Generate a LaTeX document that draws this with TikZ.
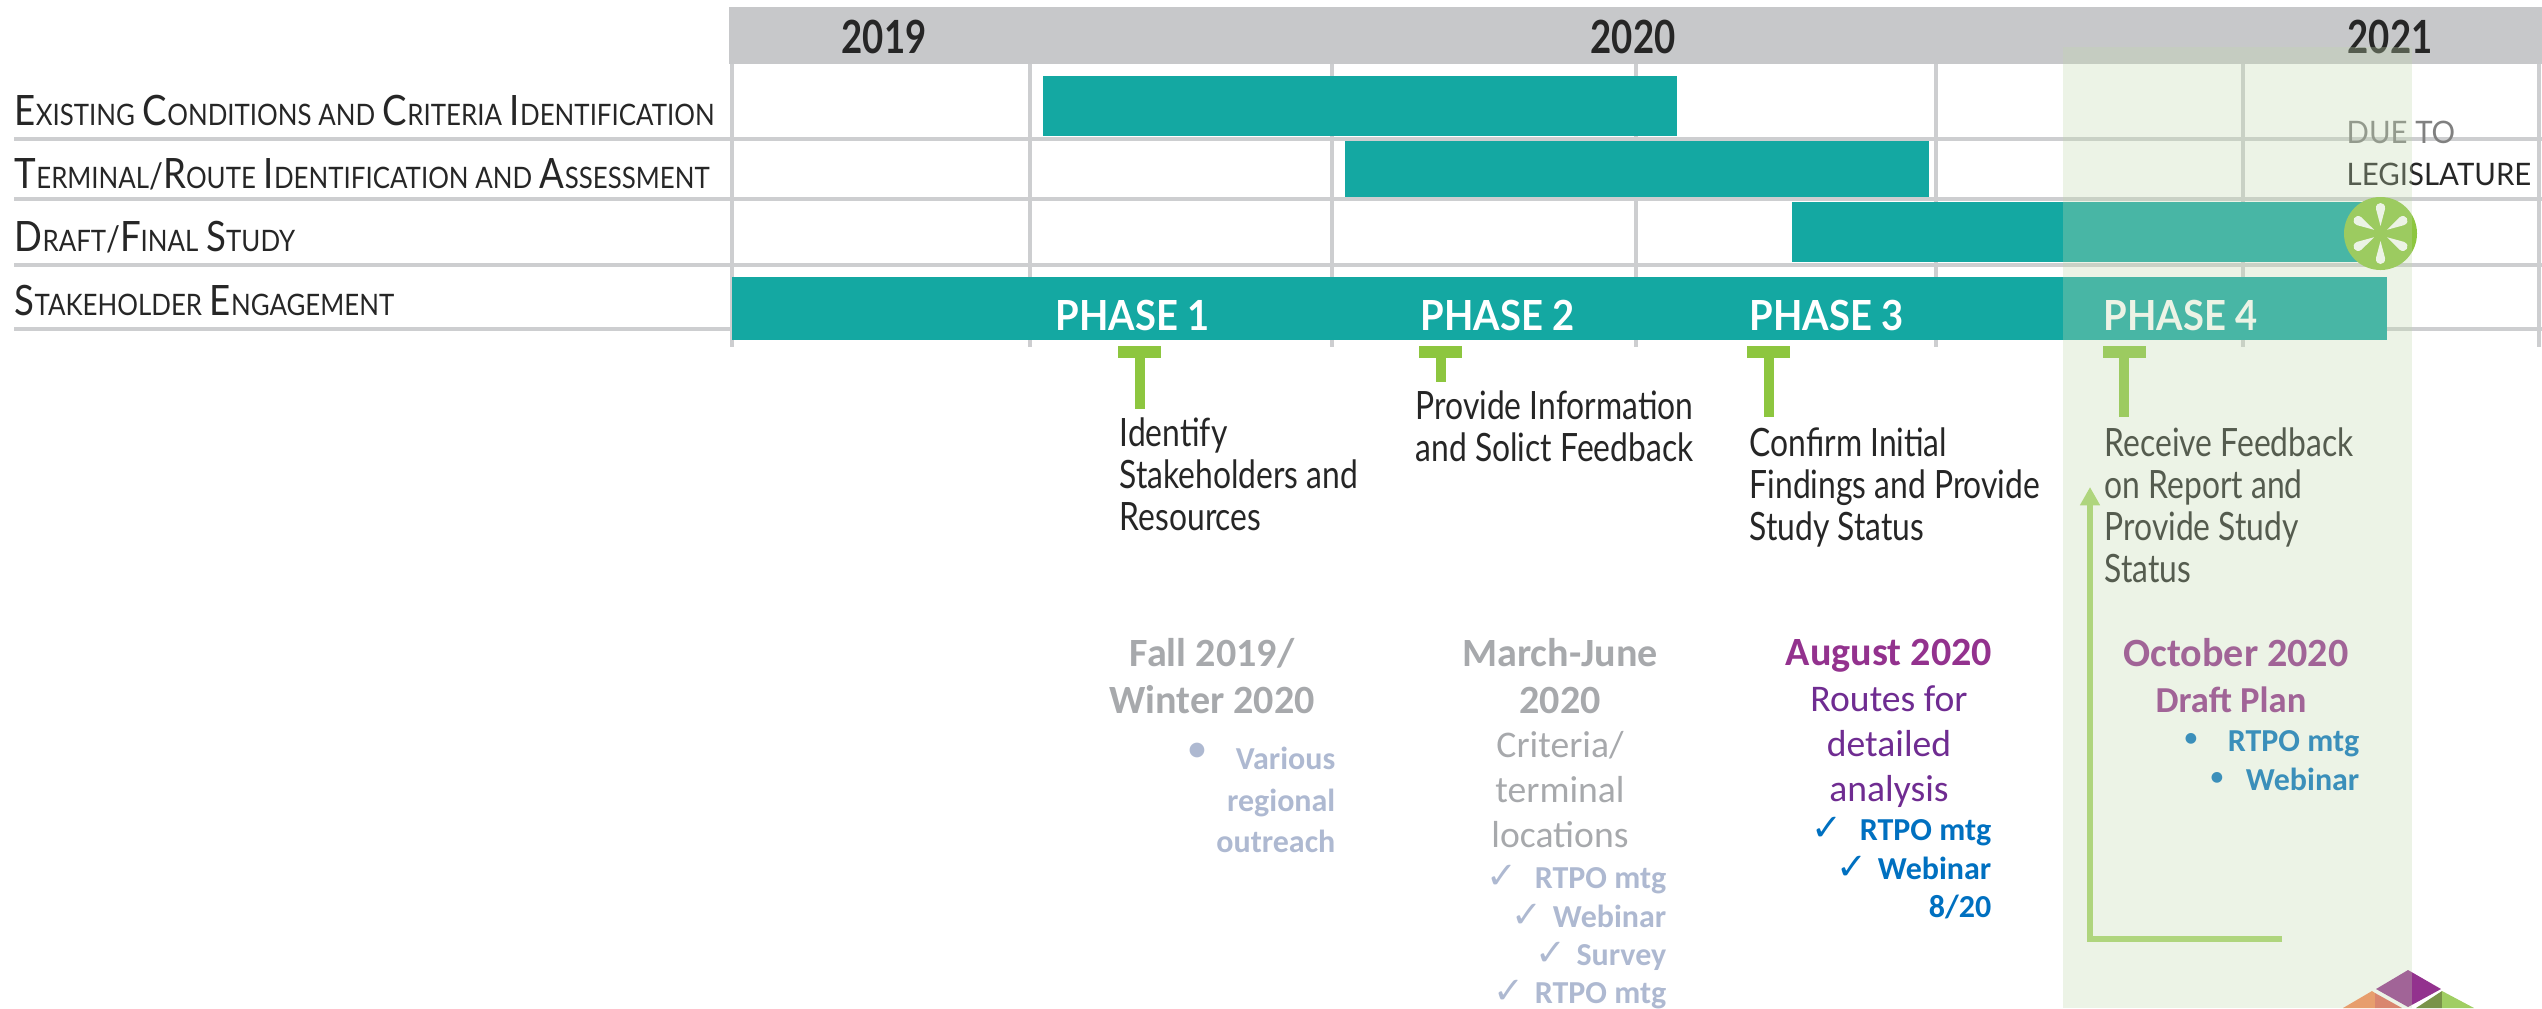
\documentclass[tikz,border=0pt]{standalone}
\usepackage{fontspec}
\usetikzlibrary{arrows.meta}
\newfontfamily\rowfont[FakeStretch=0.875]{Lato}
\newfontfamily\yearfont[FakeStretch=0.8]{Lato}
\newfontfamily\phasefont[FakeStretch=0.92]{Lato}
\newfontfamily\duefont[FakeStretch=0.95]{Lato}
\newfontfamily\descfont[FakeStretch=0.815]{Lato}
\newfontfamily\datefont{Carlito}
\newfontfamily\markfont{DejaVu Sans}
\definecolor{headgrey}{HTML}{C7C8CA}
\definecolor{gridgrey}{HTML}{CDCED0}
\definecolor{barteal}{HTML}{14A8A2}
\definecolor{limegreen}{HTML}{8DC63F}
\definecolor{panelgreen}{RGB}{193,216,173}
\definecolor{pastgrey}{HTML}{A7A9AC}
\definecolor{pastblue}{HTML}{AEB9D1}
\definecolor{plum}{HTML}{93328E}
\definecolor{routepurple}{HTML}{6F2C91}
\definecolor{mtgblue}{HTML}{0070C0}
\definecolor{backgreen}{HTML}{A8D568}
\definecolor{logoorange}{HTML}{F98552}
\definecolor{logored}{HTML}{E46255}
\definecolor{logoolive}{HTML}{799349}
\definecolor{logolime}{HTML}{A0CE63}
\newcommand{\smc}[2]{{\fontsize{11.9}{12}\selectfont #1}{\fontsize{8.4}{12}\selectfont #2}}
\newcommand{\chk}[1]{{\markfont\fontsize{10.5}{10}\selectfont ✓}\hspace{#1}}
\tikzset{
  rowlabel/.style={anchor=base west,inner sep=0pt,font=\rowfont,text=black!85},
  yearlabel/.style={anchor=base,inner sep=0pt,font=\yearfont\bfseries\fontsize{13}{14}\selectfont,text=black!85},
  phaselabel/.style={anchor=base west,inner sep=0pt,font=\phasefont\bfseries\fontsize{11.8}{14}\selectfont,text=white},
  duelabel/.style={anchor=base west,inner sep=0pt,font=\duefont\fontsize{8.8}{10}\selectfont},
  desclabel/.style={anchor=north west,inner sep=0pt,align=left,font=\descfont\fontsize{11.1}{11.95}\selectfont,text=black!85},
  datelabel/.style={anchor=north,inner sep=0pt,align=center,font=\datefont\bfseries\fontsize{11.4}{13.4}\selectfont},
  notelabel/.style={anchor=north,inner sep=0pt,align=center,font=\datefont\fontsize{10.7}{12.8}\selectfont},
  mtglabel/.style={anchor=north east,inner sep=0pt,align=right,font=\datefont\bfseries\fontsize{9.1}{10.9}\selectfont},
  bulletmark/.style={inner sep=0pt,font=\markfont\fontsize{4}{6}\selectfont}
}
\begin{document}
\begin{tikzpicture}[x=0.01cm,y=-0.01cm]
\useasboundingbox (0,0) rectangle (2542,1008);
% grid
\fill[headgrey] (729,7) rectangle (2542,64);
\foreach \x in {732,1030,1332,1636,1936,2243,2539}
  \draw[gridgrey,line width=1.3pt] (\x,64) -- (\x,347);
\foreach \y in {139,199,265,329}
  \draw[gridgrey,line width=1.4pt] (14,\y) -- (2542,\y);
% years
\node[yearlabel] (y2019) at (884,53) {2019};
\node[yearlabel] (y2020) at (1633,53) {2020};
\node[yearlabel] (y2021) at (2390,53) {2021};
% rows
\node[rowlabel] (existing) at (14,125) {\smc{E}{XISTING} \smc{C}{ONDITIONS AND} \smc{C}{RITERIA} \smc{I}{DENTIFICATION}};
\node[rowlabel] (terminal) at (14,188) {\smc{T}{ERMINAL}/\smc{R}{OUTE} \smc{I}{DENTIFICATION AND} \smc{A}{SSESSMENT}};
\node[rowlabel] (draft) at (14,251) {\smc{D}{RAFT}/\smc{F}{INAL} \smc{S}{TUDY}};
\node[rowlabel] (stakeholder) at (14,315) {\smc{S}{TAKEHOLDER} \smc{E}{NGAGEMENT}};
% bars
\fill[barteal] (1043,76) rectangle (1677,136);
\fill[barteal] (1345,141) rectangle (1929,197);
\fill[barteal] (1792,202) rectangle (2365,262);
\fill[barteal] (732,277) rectangle (2387,340);
% phases
\node[phaselabel] (phase1) at (1055,330) {PHASE 1};
\node[phaselabel] (phase2) at (1420,330) {PHASE 2};
\node[phaselabel] (phase3) at (1749,330) {PHASE 3};
\node[phaselabel] (phase4) at (2103,330) {PHASE 4};
% due date
\node[duelabel,text=black!50] (due) at (2346,143) {DUE TO};
\node[duelabel,text=black!85] (legislature) at (2346,185) {LEGISLATURE};
\fill[limegreen] (2380.5,233.5) circle [radius=36.5];
\foreach \a in {0,60,...,300}
  \fill[white,rotate around={\a:(2380.5,233.5)}] (2380.5,226) -- (2376,209) .. controls (2375,201) and (2386,201) .. (2385,209) -- cycle;
% ticks
\foreach \xa/\xb/\yb in {1118/1140/409,1419/1440.5/382,1747/1769/417,2103/2124/417}{
  \fill[limegreen] (\xa,346) rectangle (\xa+43,358);
  \fill[limegreen] (\xb-5,346) rectangle (\xb+5,\yb);
}
% phase text
\node[desclabel] (desc1) at (1119,417) {Identify\\Stakeholders and\\Resources};
\node[desclabel] (desc2) at (1415,390) {Provide Information\\and Solict Feedback};
\node[desclabel] (desc3) at (1749,427) {Confirm Initial\\Findings and Provide\\Study Status};
\node[desclabel] (desc4) at (2104,427) {Receive Feedback\\on Report and\\Provide Study\\Status};
% fall
\node[datelabel,text=pastgrey] (fall) at (1212,638) {Fall 2019/\\Winter 2020};
\node[bulletmark,text=pastblue,font=\markfont\fontsize{5.5}{8}\selectfont] (fallbul) at (1197,750) {●};
\node[mtglabel,text=pastblue,font=\datefont\bfseries\fontsize{9.1}{11.9}\selectfont] (fallmtg) at (1336,746) {Various\\regional\\outreach};
% march
\node[datelabel,text=pastgrey] (march) at (1560,638) {March-June\\2020};
\node[notelabel,text=pastgrey] (criteria) at (1560,731) {Criteria/\\terminal\\locations};
\node[mtglabel,text=pastblue] (marchmtg) at (1667,865) {\chk{5pt}RTPO mtg\\\chk{3pt}Webinar\\\chk{3pt}Survey\\\chk{3pt}RTPO mtg};
% august
\node[datelabel,text=plum] (august) at (1889,638) {August 2020};
\node[notelabel,text=routepurple] (routes) at (1889,685) {Routes for\\detailed\\analysis};
\node[mtglabel,text=mtgblue] (augmtg) at (1992,817) {\chk{5pt}RTPO mtg\\\chk{3pt}Webinar\\8/20};
% october
\node[datelabel,text=plum] (october) at (2236,638) {October 2020};
\node[datelabel,text=plum,font=\datefont\bfseries\fontsize{10.4}{12}\selectfont] (plan) at (2231,686) {Draft Plan};
\node[mtglabel,text=mtgblue] (octmtg) at (2360,730) {RTPO mtg\\Webinar};
\node[bulletmark,text=mtgblue] (octbul1) at (2191,739) {●};
\node[bulletmark,text=mtgblue] (octbul2) at (2217,778) {●};
% arrow
\coordinate (backstart) at (2282,939);
\coordinate (backcorner) at (2090,939);
\coordinate (backend) at (2090,487);
\draw[line width=1.7pt,backgreen,-{Triangle[width=5.4pt,length=5.2pt]}] (backstart) -- (backcorner) -- (backend);
% logo
\fill[plum] (2408,970) -- (2441,989) -- (2408,1007) -- (2376,989) -- cycle;
\fill[logoorange] (2343,1008) -- (2372,991) -- (2375,993) -- (2375,1008) -- cycle;
\fill[logored] (2375,993) -- (2402,1008) -- (2375,1008) -- cycle;
\fill[logoolive] (2416,1008) -- (2442,991) -- (2442,1008) -- cycle;
\fill[logolime] (2442,991) -- (2474,1008) -- (2442,1008) -- cycle;
% panel
\fill[panelgreen,fill opacity=0.306] (2063,47) rectangle (2412,1008);
\end{tikzpicture}
\end{document}
